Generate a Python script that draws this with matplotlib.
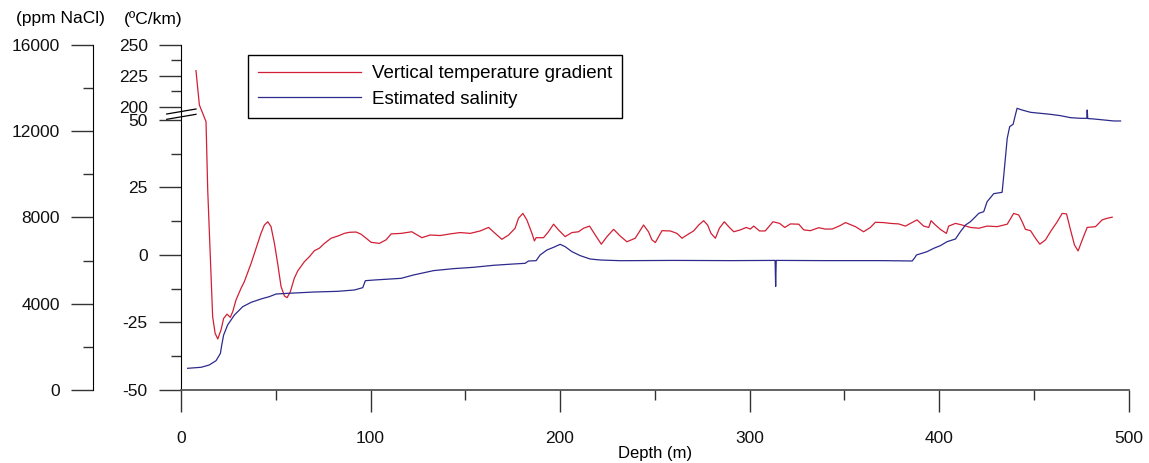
import numpy as np
import matplotlib
matplotlib.use("Agg")
import matplotlib.pyplot as plt
from matplotlib.lines import Line2D

plt.rcParams['font.family'] = ['Liberation Sans', 'DejaVu Sans']

# vertical temperature gradient (ºC/km) vs depth (m)
grad_depth = [7.9, 9.7, 13.2, 14.1, 15.5, 16.7, 18.0, 19.4, 21.1, 22.5, 24.3, 26.0, 27.3,
              29.0, 31.7, 33.4, 37.0, 39.6, 42.2, 44.0, 45.8, 47.5, 49.3, 51.0, 52.8,
              54.6, 56.0, 57.7, 59.8, 61.6, 65.1, 67.8, 70.4, 73.0, 75.7, 79.2, 82.7,
              86.2, 88.9, 92.4, 95.0, 97.7, 100.3, 104.7, 108.2, 110.9, 116.2, 121.8,
              127.1, 131.5, 136.7, 142.0, 147.3, 152.6, 157.9, 162.3, 165.8, 169.3,
              172.9, 176.3, 178.1, 180.4, 182.5, 185.2, 186.5, 187.4, 191.3, 193.9,
              196.6, 199.2, 202.7, 206.3, 209.8, 212.4, 215.6, 218.6, 221.8, 224.8,
              228.3, 231.8, 235.3, 239.7, 244.1, 246.7, 248.5, 250.3, 253.8, 258.2,
              261.7, 264.4, 267.0, 270.5, 273.2, 275.8, 277.9, 279.7, 282.0, 284.1,
              286.7, 289.0, 291.7, 295.2, 298.3, 300.4, 302.2, 305.3, 308.3, 312.4,
              315.9, 318.6, 321.6, 326.0, 328.6, 332.1, 336.5, 340.0, 343.6, 347.9,
              350.6, 355.9, 360.2, 363.8, 366.4, 370.8, 374.3, 378.7, 382.3, 388.4,
              391.9, 394.6, 395.8, 398.1, 400.7, 403.9, 405.1, 408.7, 412.2, 416.6,
              421.0, 425.4, 430.7, 436.0, 439.4, 442.1, 443.9, 445.6, 448.3, 450.9,
              453.2, 456.2, 458.8, 462.4, 465.0, 467.3, 469.4, 471.5, 473.4, 475.6,
              478.2, 482.6, 486.1, 488.8, 491.4]
grad_value = [229.3, 201.6, 49.4, 24.1, -0.6, -22.8, -29.0, -31.1, -27.8, -23.5, -21.9,
              -23.1, -21.0, -16.7, -12.3, -9.9, -3.1, 2.5, 8.0, 11.1, 12.3, 10.5, 4.3,
              -3.1, -11.7, -15.2, -15.8, -13.6, -8.6, -5.9, -2.5, -0.6, 1.6, 2.5, 4.3,
              6.2, 7.0, 8.0, 8.4, 8.5, 7.7, 6.2, 4.7, 4.3, 5.6, 7.8, 8.0, 8.6, 6.4, 7.4,
              7.2, 7.8, 8.3, 8.0, 8.9, 10.2, 8.0, 5.8, 7.4, 9.9, 13.6, 15.4, 13.0, 8.0,
              5.2, 6.4, 6.4, 8.6, 11.4, 9.3, 6.8, 8.3, 8.6, 9.9, 10.7, 7.4, 4.0, 6.8,
              9.5, 7.0, 4.9, 6.2, 11.1, 8.6, 5.6, 4.6, 9.0, 8.9, 8.0, 6.2, 7.4, 8.9,
              11.1, 12.7, 11.1, 8.0, 6.2, 9.9, 12.3, 10.5, 8.6, 9.3, 10.2, 9.6, 10.7,
              8.9, 8.9, 12.3, 11.7, 10.2, 11.5, 11.4, 9.3, 9.0, 10.1, 9.6, 9.6, 10.9,
              12.0, 10.5, 8.6, 10.2, 12.1, 12.0, 11.7, 11.5, 10.7, 13.0, 10.7, 10.2,
              12.7, 11.1, 9.5, 8.0, 10.7, 11.7, 11.1, 10.2, 9.9, 10.7, 10.5, 11.4,
              15.4, 14.8, 12.3, 9.5, 9.0, 6.2, 4.0, 5.6, 8.6, 12.3, 15.4, 15.2, 9.3,
              3.7, 1.5, 5.6, 10.2, 10.5, 13.0, 13.6, 14.0]

# estimated salinity (ppm NaCl) vs depth (m)
sal_depth = [3.5, 10.6, 14.9, 18.5, 20.8, 21.5, 22.5, 24.6, 28.2, 32.6, 37.0, 42.2,
             46.6, 50.2, 56.3, 70.4, 82.7, 91.5, 95.9, 97.3, 102.1, 116.2, 122.7,
             133.2, 143.8, 154.3, 164.9, 175.5, 181.6, 183.4, 187.4, 189.5, 193.1,
             196.6, 200.1, 202.7, 206.3, 210.7, 215.9, 221.2, 231.8, 260.0, 290.0,
             313.5, 313.8, 314.1, 340.0, 370.0, 385.8, 387.0, 388.1, 393.7, 397.2,
             400.7, 404.3, 408.7, 411.3, 414.0, 416.6, 418.4, 421.0, 423.6, 425.4,
             428.9, 433.3, 434.2, 436.0, 437.3, 439.1, 440.3, 441.2, 443.8, 448.3,
             453.5, 458.8, 464.1, 469.4, 474.7, 478.0, 478.2, 478.5, 481.7, 487.0,
             492.3, 495.8]
sal_value = [1006, 1053, 1160, 1360, 1700, 2087, 2551, 3015, 3479, 3865, 4065, 4221,
             4329, 4452, 4483, 4545, 4576, 4638, 4746, 5070, 5102, 5179, 5334, 5535,
             5628, 5690, 5783, 5844, 5875, 5983, 5997, 6261, 6493, 6617, 6756, 6648,
             6416, 6230, 6076, 6029, 5997, 6010, 6000, 6010, 4800, 6010, 6000, 6000,
             5983, 6107, 6261, 6416, 6570, 6694, 6880, 7003, 7343, 7653, 7807, 7962,
             8194, 8271, 8735, 9106, 9168, 9972, 11672, 12213, 12322, 12754, 13064,
             12986, 12878, 12832, 12785, 12723, 12630, 12600, 12600, 12986, 12590,
             12569, 12523, 12476, 12476]

x_ticks = [0, 100, 200, 300, 400, 500]
grad_ticks = [-50, -25, 0, 25, 50, 200, 225, 250]
sal_ticks = [0, 4000, 8000, 12000, 16000]

red = '#d21f35'
blue = '#2d2a8c'

# broken y scale: below 50 linear, 200..250 compressed
lo, hi = 50.0, 200.0
gap = 4.81
k = 0.459


def fwd(t):
    t = np.asarray(t, dtype=float)
    return np.where(t <= lo, t,
                    np.where(t <= hi, lo + (t - lo) * gap / (hi - lo),
                             lo + gap + (t - hi) * k))


def inv(v):
    v = np.asarray(v, dtype=float)
    return np.where(v <= lo, v,
                    np.where(v <= lo + gap, lo + (v - lo) * (hi - lo) / gap,
                             hi + (v - lo - gap) / k))


W, H = 1149, 463
fig = plt.figure(figsize=(W / 100, H / 100), dpi=100)
ax = fig.add_axes([181 / W, 1 - 390 / H, 947.5 / W, 345 / H])
ax.set_yscale('function', functions=(fwd, inv))
ax.set_xlim(0, 500)
ax.set_ylim(-50, 250)

ax2 = ax.twinx()
ax2.set_ylim(0, 16000)

l1, = ax.plot(grad_depth, grad_value, color=red, lw=0.9)
l2, = ax2.plot(sal_depth, sal_value, color=blue, lw=0.9)

for s in ['top', 'right']:
    ax.spines[s].set_visible(False)
for s in ['top', 'right', 'bottom']:
    ax2.spines[s].set_visible(False)
ax.spines['left'].set_color('black')
ax.spines['bottom'].set_color('#555555')
ax.spines['bottom'].set_linewidth(1.3)

ax.set_xticks(x_ticks)
ax.set_xticks([50, 150, 250, 350, 450], minor=True)
ax.set_yticks(grad_ticks)
ax.set_yticklabels([str(t) for t in grad_ticks])
ax.set_yticks([-37.5, -12.5, 12.5, 37.5, 212.5, 237.5], minor=True)
ax.yaxis.set_minor_formatter(matplotlib.ticker.NullFormatter())
ax.tick_params(axis='both', which='major', length=15.5, width=1, color='#333333',
               labelsize=12.5, labelcolor='#111111')
ax.tick_params(axis='both', which='minor', length=7.5, width=1, color='#333333')
ax.tick_params(axis='y', which='major', pad=8.5)
ax.tick_params(axis='x', which='major', pad=14)

ax2.spines['left'].set_visible(True)
ax2.spines['left'].set_position(('outward', 88 * 0.72))
ax2.spines['left'].set_color('black')
ax2.yaxis.set_ticks_position('left')
ax2.yaxis.set_label_position('left')
ax2.set_yticks(sal_ticks)
ax2.set_yticks([2000, 6000, 10000, 14000], minor=True)
ax2.tick_params(axis='y', which='major', length=15.5, width=1, color='#333333',
                labelsize=12.5, labelcolor='#111111', pad=8.5)
ax2.tick_params(axis='y', which='minor', length=7.5, width=1, color='#333333')

ax.set_xlabel('Depth (m)', fontsize=12, labelpad=0)

fig.text(60 / W, 1 - 19 / H, '(ppm NaCl)', ha='center', va='center', fontsize=12.5)
fig.text(153 / W, 1 - 19 / H, '(ºC/km)', ha='center', va='center', fontsize=12.5)

# axis break marks
for y0, y1 in [(114, 109), (119.3, 114.3)]:
    fig.add_artist(Line2D([166.7 / W, 196 / W], [1 - y0 / H, 1 - y1 / H],
                          color='black', lw=0.9, transform=fig.transFigure))

leg = ax2.legend([l1, l2], ['Vertical temperature gradient', 'Estimated salinity'],
                 loc='upper left', bbox_to_anchor=(248 / W, 1 - 55 / H),
                 bbox_transform=fig.transFigure, fontsize=13.5, frameon=True,
                 fancybox=False, framealpha=1, edgecolor='black',
                 handlelength=5.5, handletextpad=0.55, borderpad=0.55,
                 labelspacing=0.45, borderaxespad=0)
leg.get_frame().set_linewidth(1.0)

fig.savefig('out.png', dpi=100)
